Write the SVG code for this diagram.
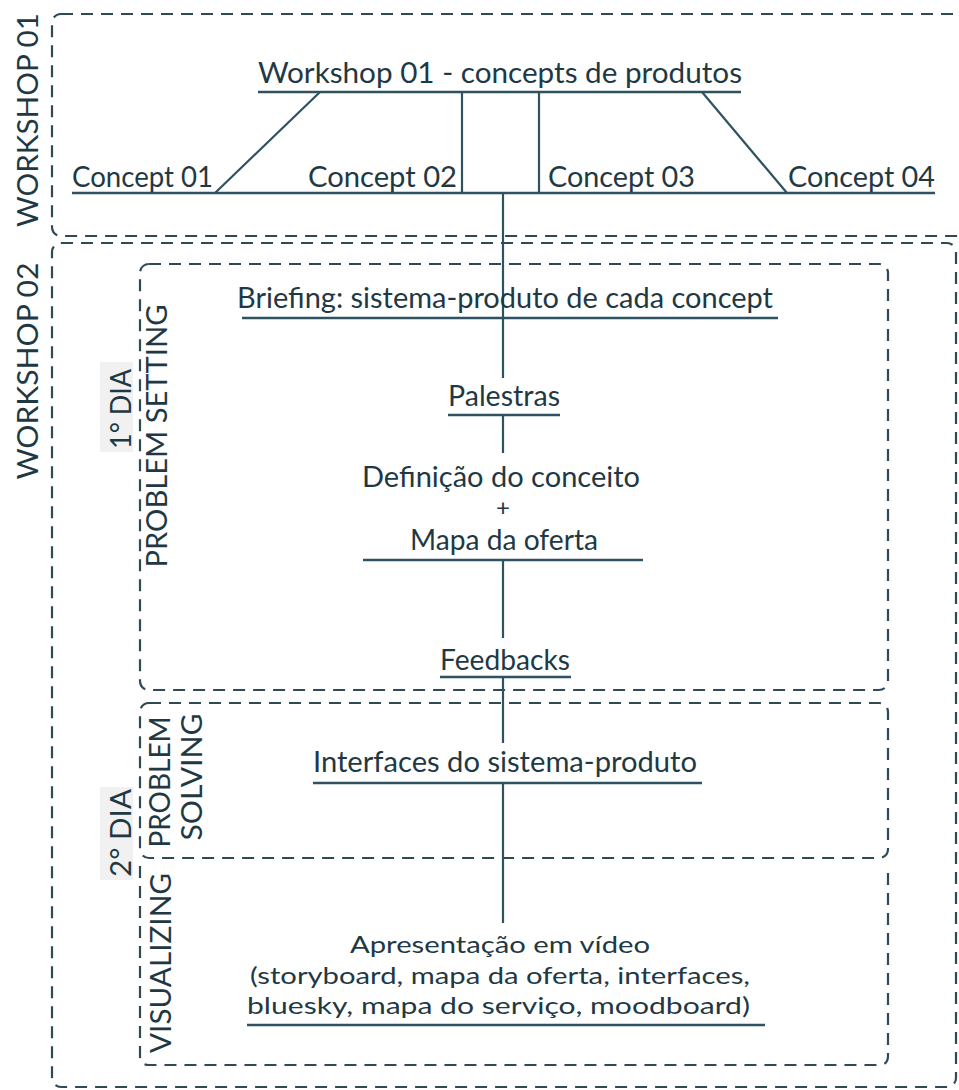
<svg xmlns="http://www.w3.org/2000/svg" width="959" height="1090" viewBox="0 0 959 1090">
<style>
.t{font-family:Lato,"Open Sans","Liberation Sans",sans-serif;font-size:28px;fill:#1f3944}
.s{font-size:24px}
.m{text-anchor:middle}
.ln{stroke:#2f5260;stroke-width:2.2;fill:none}
.ul{stroke:#2f5260;stroke-width:2.6;fill:none}
.box{stroke:#2f4a55;stroke-width:2.2;fill:none;stroke-dasharray:12 8}
</style>
<rect width="959" height="1090" fill="#ffffff"/>
<g id="frames">
<rect class="box" x="52" y="14" width="940" height="222" rx="9"/>
<rect class="box" x="52" y="243" width="904" height="844" rx="9"/>
<rect class="box" x="140" y="264" width="748" height="426" rx="9"/>
<rect class="box" x="140" y="703" width="748" height="155" rx="9"/>
<path class="box" d="M140,866 L140,1056 Q140,1065 149,1065 L879,1065 Q888,1065 888,1056 L888,866"/>
</g>
<g id="side-labels">
<rect x="100" y="362" width="33" height="90" fill="#f1f1f1"/>
<rect x="100" y="787" width="33" height="93" fill="#f1f1f1"/>
<text class="t m" transform="translate(38,120) rotate(-90)" textLength="214" lengthAdjust="spacingAndGlyphs">WORKSHOP 01</text>
<text class="t m" transform="translate(38,371) rotate(-90)" textLength="217" lengthAdjust="spacingAndGlyphs">WORKSHOP 02</text>
<text class="t m" transform="translate(131,409) rotate(-90)" textLength="80" lengthAdjust="spacingAndGlyphs">1° DIA</text>
<text class="t m" transform="translate(167,436) rotate(-90)" textLength="263" lengthAdjust="spacingAndGlyphs">PROBLEM SETTING</text>
<text class="t m" transform="translate(131,833) rotate(-90)" textLength="88" lengthAdjust="spacingAndGlyphs">2° DIA</text>
<text class="t m" transform="translate(170,782) rotate(-90)" textLength="131" lengthAdjust="spacingAndGlyphs">PROBLEM</text>
<text class="t m" transform="translate(202,777) rotate(-90)" textLength="127" lengthAdjust="spacingAndGlyphs">SOLVING</text>
<text class="t m" transform="translate(171,963) rotate(-90)" textLength="180" lengthAdjust="spacingAndGlyphs">VISUALIZING</text>
</g>
<g id="connectors">
<line class="ln" x1="320" y1="92" x2="215" y2="193"/>
<line class="ln" x1="462" y1="92" x2="462" y2="193"/>
<line class="ln" x1="539" y1="92" x2="539" y2="193"/>
<line class="ln" x1="702" y1="92" x2="787" y2="193"/>
<line class="ln" x1="503" y1="193" x2="503" y2="318"/>
<line class="ln" x1="503" y1="318" x2="503" y2="378"/>
<line class="ln" x1="503" y1="415" x2="503" y2="453"/>
<line class="ln" x1="503" y1="560" x2="503" y2="638"/>
<line class="ln" x1="503" y1="677" x2="503" y2="743"/>
<line class="ln" x1="503" y1="783" x2="503" y2="923"/>
</g>
<g id="workshop01-title">
<text class="t" x="258" y="83" textLength="484" lengthAdjust="spacingAndGlyphs">Workshop 01 - concepts de produtos</text>
<line class="ul" x1="258" y1="92" x2="741" y2="92"/>
</g>
<g id="concepts">
<line class="ul" x1="72" y1="193" x2="935" y2="193"/>
<text class="t" x="72" y="187" textLength="141" lengthAdjust="spacingAndGlyphs">Concept 01</text>
<text class="t" x="308" y="187" textLength="149" lengthAdjust="spacingAndGlyphs">Concept 02</text>
<text class="t" x="548" y="187" textLength="147" lengthAdjust="spacingAndGlyphs">Concept 03</text>
<text class="t" x="788" y="187" textLength="147" lengthAdjust="spacingAndGlyphs">Concept 04</text>
</g>
<g id="briefing">
<text class="t" x="237" y="308" textLength="536" lengthAdjust="spacingAndGlyphs">Briefing: sistema-produto de cada concept</text>
<line class="ul" x1="242" y1="318" x2="778" y2="318"/>
</g>
<g id="palestras">
<text class="t" x="448" y="406" textLength="112" lengthAdjust="spacingAndGlyphs">Palestras</text>
<line class="ul" x1="448" y1="415" x2="560" y2="415"/>
</g>
<g id="definicao">
<text class="t" x="362" y="487" textLength="278" lengthAdjust="spacingAndGlyphs">Definição do conceito</text>
<text class="t m" x="503" y="516" style="font-size:24px">+</text>
<text class="t" x="410" y="550" textLength="188" lengthAdjust="spacingAndGlyphs">Mapa da oferta</text>
<line class="ul" x1="363" y1="560" x2="643" y2="560"/>
</g>
<g id="feedbacks">
<text class="t" x="440" y="670" textLength="130" lengthAdjust="spacingAndGlyphs">Feedbacks</text>
<line class="ul" x1="440" y1="677" x2="571" y2="677"/>
</g>
<g id="interfaces">
<text class="t" x="313" y="772" textLength="384" lengthAdjust="spacingAndGlyphs">Interfaces do sistema-produto</text>
<line class="ul" x1="313" y1="783" x2="702" y2="783"/>
</g>
<g id="apresentacao">
<text class="t s" x="350" y="953" textLength="300" lengthAdjust="spacingAndGlyphs">Apresentação em vídeo</text>
<text class="t s" x="250" y="984" textLength="500" lengthAdjust="spacingAndGlyphs">(storyboard, mapa da oferta, interfaces,</text>
<text class="t s" x="247" y="1014" textLength="503" lengthAdjust="spacingAndGlyphs">bluesky, mapa do serviço, moodboard)</text>
<line class="ul" x1="247" y1="1025" x2="765" y2="1025"/>
</g>
</svg>
